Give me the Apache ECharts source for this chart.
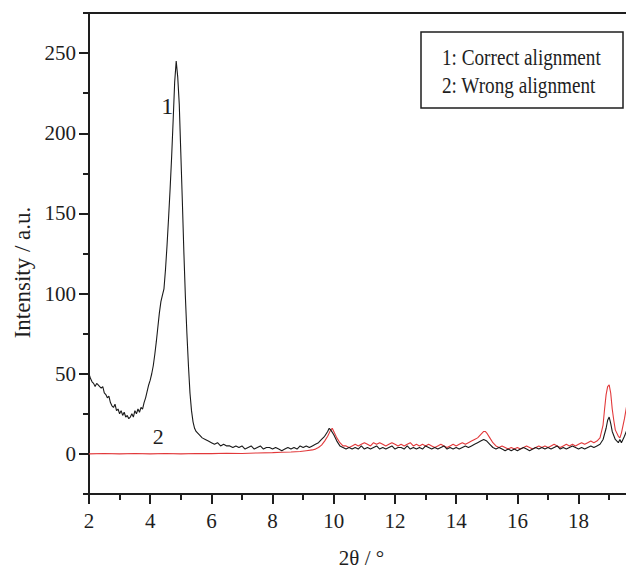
<!DOCTYPE html>
<html>
<head>
<meta charset="utf-8">
<script src="https://cdn.jsdelivr.net/npm/echarts@6/dist/echarts.min.js"></script>
<style>
html,body{margin:0;padding:0;background:#fff;}
#c{width:626px;height:577px;}
</style>
</head>
<body>
<div id="c"></div>
<script>
// 2θ tick labels
const xMajorTicks = [2, 4, 6, 8, 10, 12, 14, 16, 18];
const xMinorTicks = [3, 5, 7, 9, 11, 13, 15, 17, 19];
const yMajorTicks = [0, 50, 100, 150, 200, 250];
const yMinorTicks = [-25, 25, 75, 125, 175, 225, 275];

// Curve 1: correct alignment  [2θ, intensity]
const correctAlignment = [
  [2.00,50],[2.05,47],[2.10,45],[2.15,44],[2.20,42],[2.25,44],[2.30,43],[2.35,42],[2.40,41],[2.45,42],
  [2.50,38],[2.55,37],[2.60,35],[2.65,36],[2.70,32],[2.75,30],[2.80,29],[2.85,31],[2.90,27],[2.95,28],
  [3.00,25],[3.05,27],[3.10,24],[3.15,26],[3.20,23],[3.25,24],[3.30,22],[3.35,23],[3.40,25],[3.45,23],
  [3.50,27],[3.55,25],[3.60,28],[3.65,26],[3.70,29],[3.75,28],[3.80,32],[3.85,35],[3.90,39],[3.95,43],
  [4.00,46],[4.05,50],[4.10,55],[4.15,62],[4.20,70],[4.25,79],[4.30,88],[4.35,95],[4.40,99],[4.45,103],
  [4.50,115],[4.55,130],[4.60,147],[4.65,165],[4.70,185],[4.75,208],[4.80,232],[4.85,245],[4.90,235],[4.95,218],
  [5.00,188],[5.05,158],[5.10,126],[5.15,98],[5.20,75],[5.25,55],[5.30,38],[5.35,27],[5.40,20],[5.45,16],
  [5.50,14],[5.60,12],[5.70,10],[5.80,9],[5.90,8],[6.00,7],[6.10,6],[6.20,7],[6.30,5],[6.40,6],
  [6.50,5],[6.60,5],[6.70,4],[6.80,5],[6.90,4],[7.00,5],[7.10,3],[7.20,4],[7.30,5],[7.40,3],
  [7.50,4],[7.60,5],[7.70,3],[7.80,4],[7.90,4],[8.00,3],[8.10,4],[8.20,3],[8.30,2],[8.40,3],
  [8.50,4],[8.60,3],[8.70,4],[8.80,3],[8.90,5],[9.00,4],[9.10,5],[9.20,4],[9.30,5],[9.40,6],
  [9.50,7],[9.60,9],[9.70,11],[9.80,14],[9.85,16],[9.90,15],[10.00,12],[10.10,8],[10.20,5],[10.30,4],
  [10.40,3],[10.50,4],[10.60,3],[10.70,4],[10.80,3],[10.90,5],[11.00,3],[11.10,4],[11.20,3],[11.30,4],
  [11.40,5],[11.50,3],[11.60,4],[11.70,3],[11.80,4],[11.90,5],[12.00,3],[12.10,4],[12.20,4],[12.30,3],
  [12.40,5],[12.50,3],[12.60,4],[12.70,3],[12.80,4],[12.90,3],[13.00,5],[13.10,4],[13.20,3],[13.30,4],
  [13.40,3],[13.50,4],[13.60,5],[13.70,3],[13.80,4],[13.90,3],[14.00,4],[14.10,3],[14.20,4],[14.30,5],
  [14.40,4],[14.50,5],[14.60,6],[14.70,7],[14.80,8],[14.90,9],[15.00,8],[15.10,6],[15.20,4],[15.30,3],
  [15.40,4],[15.50,3],[15.60,2],[15.70,3],[15.80,2],[15.90,3],[16.00,2],[16.10,3],[16.20,4],[16.30,3],
  [16.40,2],[16.50,3],[16.60,4],[16.70,3],[16.80,4],[16.90,3],[17.00,4],[17.10,3],[17.20,4],[17.30,5],
  [17.40,3],[17.50,4],[17.60,3],[17.70,4],[17.80,5],[17.90,4],[18.00,3],[18.10,4],[18.20,3],[18.30,4],
  [18.40,5],[18.50,4],[18.60,5],[18.70,6],[18.80,9],[18.90,16],[18.95,21],[19.00,23],[19.05,19],[19.10,14],
  [19.20,9],[19.30,7],[19.35,9],[19.40,7],[19.50,11],[19.60,16]
];

// Curve 2: wrong alignment  [2θ, intensity]
const wrongAlignment = [
  [2.00,0],[2.50,0.3],[3.00,0],[3.50,0.3],[4.00,0],[4.50,0.3],[5.00,0],[5.50,0.3],[6.00,0.2],[6.50,0.4],
  [7.00,0.3],[7.50,0.6],[8.00,0.8],[8.30,1],[8.60,1.2],[8.90,1.5],[9.10,2],[9.30,2.5],[9.40,3],[9.50,4],
  [9.60,5.5],[9.70,8],[9.80,11],[9.90,15],[9.95,16],[10.00,14],[10.10,10],[10.20,7],[10.30,5],[10.40,5],
  [10.50,4],[10.60,5],[10.70,6],[10.80,5],[10.90,6],[11.00,7],[11.10,6],[11.20,5],[11.30,7],[11.40,6],
  [11.50,7],[11.60,6],[11.70,5],[11.80,6],[11.90,7],[12.00,6],[12.10,5],[12.20,6],[12.30,5],[12.40,6],
  [12.50,7],[12.60,5],[12.70,6],[12.80,5],[12.90,6],[13.00,5],[13.10,6],[13.20,5],[13.30,4],[13.40,5],
  [13.50,6],[13.60,5],[13.70,4],[13.80,5],[13.90,6],[14.00,5],[14.10,6],[14.20,7],[14.30,6],[14.40,7],
  [14.50,8],[14.60,9],[14.70,10],[14.80,12],[14.90,14],[14.95,14],[15.00,13],[15.10,10],[15.20,7],[15.30,5],
  [15.40,4],[15.50,5],[15.60,4],[15.70,3],[15.80,4],[15.90,3],[16.00,4],[16.10,3],[16.20,4],[16.30,5],
  [16.40,4],[16.50,3],[16.60,4],[16.70,5],[16.80,4],[16.90,5],[17.00,4],[17.10,5],[17.20,6],[17.30,5],
  [17.40,4],[17.50,5],[17.60,6],[17.70,5],[17.80,6],[17.90,5],[18.00,6],[18.10,7],[18.20,6],[18.30,7],
  [18.40,8],[18.50,7],[18.60,8],[18.70,10],[18.80,18],[18.85,28],[18.90,37],[18.95,42],[19.00,43],[19.05,38],
  [19.10,28],[19.15,21],[19.20,15],[19.30,11],[19.35,10],[19.40,13],[19.50,22],[19.60,33]
];

const legendLines = ['1: Correct alignment', '2: Wrong alignment'];
const curveTags = [{name: '1', at: [4.56, 217]}, {name: '2', at: [4.26, 11]}];

const FONT = "'Liberation Serif', 'Times New Roman', serif";
const INK = '#1e1e1e';
const X_MIN = 2, X_MAX = 19.55, Y_MIN = -25, Y_MAX = 275;
const gridRect = {left: 89, right: 0, top: 13, bottom: 83};

const chart = echarts.init(document.getElementById('c'), null, {renderer: 'svg'});

const option = {
  animation: false,
  backgroundColor: '#ffffff',
  grid: [
    Object.assign({containLabel: false}, gridRect),
    Object.assign({containLabel: false}, gridRect)
  ],
  xAxis: [
    {
      type: 'value', gridIndex: 0, position: 'bottom', min: X_MIN, max: X_MAX,
      axisLine: {show: true, onZero: false, lineStyle: {color: INK, width: 2}},
      axisTick: {show: true, customValues: xMajorTicks, length: 10, lineStyle: {color: INK, width: 2}},
      axisLabel: {show: true, customValues: xMajorTicks, fontSize: 21, fontFamily: FONT, color: INK, margin: 16},
      splitLine: {show: false},
      name: '2θ / °', nameLocation: 'middle', nameGap: 53,
      nameTextStyle: {fontSize: 21, fontFamily: FONT, color: INK, padding: [0, 0, 0, 8]}
    },
    {
      type: 'value', gridIndex: 1, position: 'bottom', min: X_MIN, max: X_MAX,
      axisLine: {show: false, onZero: false},
      axisTick: {show: true, customValues: xMinorTicks, length: 6, lineStyle: {color: INK, width: 2}},
      axisLabel: {show: false},
      splitLine: {show: false}
    },
    {
      type: 'value', gridIndex: 1, position: 'top', min: X_MIN, max: X_MAX,
      axisLine: {show: true, onZero: false, lineStyle: {color: INK, width: 2}},
      axisTick: {show: false}, axisLabel: {show: false}, splitLine: {show: false}
    }
  ],
  yAxis: [
    {
      type: 'value', gridIndex: 0, position: 'left', min: Y_MIN, max: Y_MAX,
      axisLine: {show: true, onZero: false, lineStyle: {color: INK, width: 2}},
      axisTick: {show: true, customValues: yMajorTicks, length: 10, lineStyle: {color: INK, width: 2}},
      axisLabel: {show: true, customValues: yMajorTicks, fontSize: 21, fontFamily: FONT, color: INK, margin: 13},
      splitLine: {show: false},
      name: 'Intensity / a.u.', nameLocation: 'middle', nameGap: 48,
      nameTextStyle: {fontSize: 23, fontFamily: FONT, color: INK, padding: [0, 38, 0, 0]}
    },
    {
      type: 'value', gridIndex: 1, position: 'left', min: Y_MIN, max: Y_MAX,
      axisLine: {show: false, onZero: false},
      axisTick: {show: true, customValues: yMinorTicks, length: 6, lineStyle: {color: INK, width: 2}},
      axisLabel: {show: false},
      splitLine: {show: false}
    }
  ],
  series: [
    {
      name: legendLines[1], type: 'line', xAxisIndex: 0, yAxisIndex: 0,
      data: wrongAlignment, showSymbol: false, symbol: 'none',
      lineStyle: {color: '#e2393b', width: 1.1}, clip: true, z: 2,
      markPoint: {
        symbol: 'circle', symbolSize: 0, silent: true,
        label: {show: true, position: 'inside', fontSize: 22, fontFamily: FONT, color: INK, formatter: '{b}'},
        data: [{name: curveTags[1].name, coord: curveTags[1].at}]
      }
    },
    {
      name: legendLines[0], type: 'line', xAxisIndex: 0, yAxisIndex: 0,
      data: correctAlignment, showSymbol: false, symbol: 'none',
      lineStyle: {color: '#1a1a1a', width: 1.1}, clip: true, z: 3,
      markPoint: {
        symbol: 'circle', symbolSize: 0, silent: true,
        label: {show: true, position: 'inside', fontSize: 24, fontFamily: FONT, color: INK, formatter: '{b}'},
        data: [{name: curveTags[0].name, coord: curveTags[0].at}]
      }
    }
  ],
  graphic: [
    {
      type: 'rect', x: 421, y: 32, z: 10,
      shape: {x: 0, y: 0, width: 202, height: 76},
      style: {fill: '#ffffff', stroke: INK, lineWidth: 1.5}
    },
    {
      type: 'text', x: 442, y: 57, scaleX: 0.8, z: 11,
      style: {text: legendLines[0], fontSize: 24, fontFamily: FONT, fill: INK, verticalAlign: 'middle', align: 'left'}
    },
    {
      type: 'text', x: 442, y: 85, scaleX: 0.8, z: 11,
      style: {text: legendLines[1], fontSize: 24, fontFamily: FONT, fill: INK, verticalAlign: 'middle', align: 'left'}
    }
  ]
};

chart.setOption(option);
</script>
</body>
</html>
